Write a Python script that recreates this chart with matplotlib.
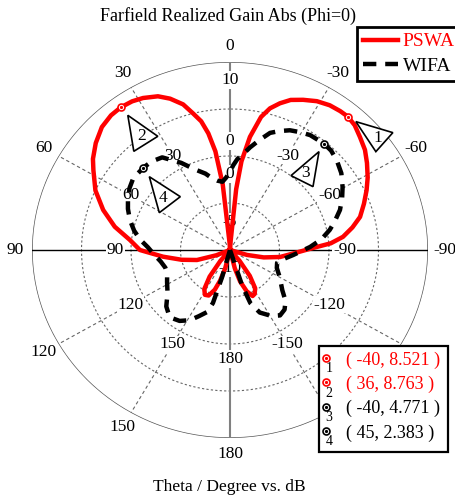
import numpy as np
import matplotlib
matplotlib.use("Agg")
import matplotlib.pyplot as plt
from matplotlib.patches import Polygon, Rectangle
from matplotlib.transforms import IdentityTransform
from matplotlib.lines import Line2D

plt.rcParams['font.family'] = ['Liberation Serif', 'DejaVu Serif']

# farfield cut at phi=0, theta in degrees (positive to the left), gain in dB
pswa_theta = [-180, -170, -166, -163, -159, -155, -152, -148, -144, -140, -136,
              -111, -107, -103, -98.4, -93, -88.5, -86, -83, -79, -75, -70,
              -65.2, -61, -56.2, -52, -47.5, -43.5, -40, -37, -33.2, -29,
              -24.8, -21, -17.9, -15, -12.5, -9.5, -7, -5.5, -4, 0,
              3, 6, 8, 10, 12, 14.4, 17, 20.6, 24, 28.5, 32, 36, 40, 44.7,
              50, 55, 58.4, 65, 71.6, 78, 84, 90, 96, 102, 107.7, 112, 116,
              136, 140, 144, 148, 152, 156, 160, 163, 166, 170, 180]
pswa_db = [-10, -10, -8.0, -6.5, -5.3, -4.6, -4.7, -5.2, -6.6, -8.5, -10,
           -10, -8.2, -6.5, -4.9, -3.5, -1.6, 0.2, 1.5, 2.6, 3.6, 4.4,
           5.2, 5.9, 6.65, 7.3, 7.8, 8.3, 8.521, 8.5, 8.4, 8.1,
           7.6, 7.1, 6.4, 5.6, 4.5, 2.2, -0.5, -3.5, -9, -10,
           -9.3, -3.0, 0.6, 2.6, 4.0, 5.0, 6.2, 7.2, 7.9, 8.4, 8.65, 8.763, 8.7, 8.4,
           7.7, 6.9, 6.2, 5.0, 3.5, 1.9, 0.16, -0.9, -3.2, -5.0, -6.5, -8.5, -10,
           -10, -8.5, -6.5, -5.1, -4.6, -4.7, -5.5, -6.6, -8.0, -10, -10]

wifa_theta = [-180, -164, -162, -160, -155.7, -149, -144, -139, -134, -129,
              -120, -112, -106, -100, -94.8, -87.7, -83, -78, -74, -69, -64,
              -59.5, -54, -48.5, -44, -40, -33.5, -29.5, -25.4, -21.5, -18,
              -14, -10.5, -7, -4.4, -2, 0,
              3, 6, 10, 13, 17, 22.6, 28, 34.8, 40, 45, 52, 57, 62.7, 67,
              72.5, 78, 83, 88, 92.4, 100, 106, 111, 118, 126, 133, 139.6,
              146, 151.5, 156, 160.6, 163, 164.5, 166, 180]
wifa_db = [-10, -10, -6.0, -4.0, -2.7, -1.8, -1.4, -1.6, -2.2, -3.2,
           -4.2, -4.9, -5.05, -4.5, -3.6, -1.9, -0.7, 0.3, 1.0, 1.9, 2.6,
           3.2, 3.9, 4.4, 4.7, 4.771, 4.66, 4.4, 4.1, 3.6, 3.1,
           2.0, 1.1, 0.2, -0.3, -1.0, -1.7,
           -2.3, -2.7, -2.5, -2.2, -1.5, -0.7, 0.5, 2.0, 2.3, 2.383, 2.4, 2.1, 1.6, 1.2,
           0.6, -0.1, -0.85, -1.7, -2.2, -2.9, -3.2, -3.2, -2.8, -2.2, -1.2, -0.6,
           -0.9, -1.5, -2.3, -3.0, -4.1, -7.0, -10, -10]

# curve markers 1..4
marker_theta = [-40, 36, -40, 45]
marker_db = [8.521, 8.763, 4.771, 2.383]
marker_series = ['PSWA', 'PSWA', 'WIFA', 'WIFA']

theta_ticks = [0, 30, 60, 90, 120, 150, 180, -150, -120, -90, -60, -30]
ring_values = [-5, 0, 5]
radial_labels = ['10', '0', '-5', '-10']

colors = {'PSWA': 'red', 'WIFA': 'black'}

fig = plt.figure(figsize=(4.56, 5.0), dpi=100)
ax = fig.add_axes([32 / 456, 62 / 500, 396 / 456, 376 / 500], projection='polar')
ax.set_theta_zero_location('N')
ax.set_theta_direction(1)
ax.set_ylim(-10, 10)
ax.set_aspect('auto')
ax.grid(False)
ax.set_xticks([])
ax.set_yticks([])
ax.spines['polar'].set_visible(False)

# grid: dotted rings, dashed spokes, solid axes
t = np.linspace(0, 2 * np.pi, 721)
for rv in ring_values:
    ax.plot(t, np.full_like(t, rv), color='#666666', lw=0.8, ls=(0, (2, 2)), zorder=1)
ax.plot(t, np.full_like(t, 10), color='#555555', lw=1.0, zorder=1)
for a in [30, 60, 120, 150, -30, -60, -120, -150]:
    ax.plot([np.radians(a)] * 2, [-10, 10], color='#666666', lw=0.8,
            ls=(0, (3, 2.5)), zorder=1)
ax.plot([0, 0], [-10, 10], color='#808080', lw=1.5, zorder=1)
ax.plot([np.pi, np.pi], [-10, 10], color='#808080', lw=1.5, zorder=1)
ax.plot([np.pi / 2] * 2, [-10, 10], color='black', lw=1.0, zorder=1)
ax.plot([-np.pi / 2] * 2, [-10, 10], color='black', lw=1.0, zorder=1)

box = dict(facecolor='white', edgecolor='none', pad=0.6)
for a in theta_ticks:
    # outer -150 / -120 sit under the readout table
    if a not in (-150, -120):
        ax.text(np.radians(a), 11.7, str(a), fontsize=12.5, ha='center',
                va='center', clip_on=False, zorder=2)
    ax.text(np.radians(a), 1.6, str(a), fontsize=12.5, ha='center', va='center',
            bbox=box, zorder=2)
for lab, (a, rv) in zip(radial_labels, [(0, 8.1), (0, -1.9), (0, -7.0), (180, -8.1)]):
    ax.text(np.radians(a), rv, lab, fontsize=12.5, ha='center', va='center',
            bbox=box, zorder=2)

ax.plot(np.radians(pswa_theta), pswa_db, color='red', lw=3.2, zorder=4,
        solid_joinstyle='round', label='PSWA')
ax.plot(np.radians(wifa_theta), wifa_db, color='black', lw=3.2, zorder=5,
        ls=(0, (3, 2)), label='WIFA')

# markers and their numbered callouts
callouts = [
    [(8, 5), (45, 16), (28, 35)],
    [(7, 8), (37, 29), (13, 44)],
    [(-5, 8), (-33, 32), (-11, 43)],
    [(6, 9), (37, 29), (16, 45)],
]
label_offsets = [(30, 21), (21, 29), (-18, 29), (20, 30)]

for i, (th, db, s) in enumerate(zip(marker_theta, marker_db, marker_series)):
    c = colors[s]
    ax.plot(np.radians(th), db, 'o', ms=5, mfc='white', mec=c, mew=1.2, zorder=6)
    ax.plot(np.radians(th), db, 'o', ms=1.3, color=c, zorder=7)
    px, py = ax.transData.transform((np.radians(th), db))
    verts = [(px + dx, py - dy) for dx, dy in callouts[i]]
    fig.add_artist(Polygon(verts, closed=True, facecolor='white', edgecolor='black',
                           lw=1.2, transform=IdentityTransform(), zorder=7))
    lx, ly = label_offsets[i]
    fig.text((px + lx) / 456, (py - ly) / 500, str(i + 1), fontsize=12.5,
             ha='center', va='center', zorder=8)

# marker readout table
fig.add_artist(Rectangle((319 / 456, 1 - 452 / 500), 129 / 456, 106 / 500,
                         facecolor='white', edgecolor='black', lw=1.6,
                         transform=fig.transFigure, zorder=9))
for i, (th, db, s) in enumerate(zip(marker_theta, marker_db, marker_series)):
    c = colors[s]
    y = 1 - (360 + 24.3 * i) / 500
    fig.add_artist(Line2D([326 / 456], [y + 2 / 500], marker='o', ms=5, mfc='white',
                          mec=c, mew=1.2, transform=fig.transFigure, zorder=10))
    fig.add_artist(Line2D([326 / 456], [y + 2 / 500], marker='o', ms=1.3, color=c,
                          transform=fig.transFigure, zorder=11))
    fig.text(329 / 456, y - 9 / 500, str(i + 1), fontsize=10, ha='center',
             va='center', zorder=11)
    fig.text(346 / 456, y, f"( {th}, {db:.3f} )", fontsize=13, color=c,
             ha='left', va='center', zorder=11)

leg = fig.legend(loc='upper left', bbox_to_anchor=(357 / 456, 1 - 27 / 500),
                 fontsize=14, handlelength=1.8, handletextpad=0.25,
                 borderpad=0.3, labelspacing=0.35, borderaxespad=0,
                 fancybox=False, framealpha=1, labelcolor='linecolor')
leg.get_frame().set_edgecolor('black')
leg.get_frame().set_linewidth(2)
leg.set_zorder(12)

fig.text(228 / 456, 1 - 16 / 500, 'Farfield Realized Gain Abs (Phi=0)',
         fontsize=13, ha='center', va='center')
fig.text(229 / 456, 1 - 487 / 500, 'Theta / Degree vs. dB', fontsize=12.5,
         ha='center', va='center')

fig.savefig('out.png', dpi=100)
